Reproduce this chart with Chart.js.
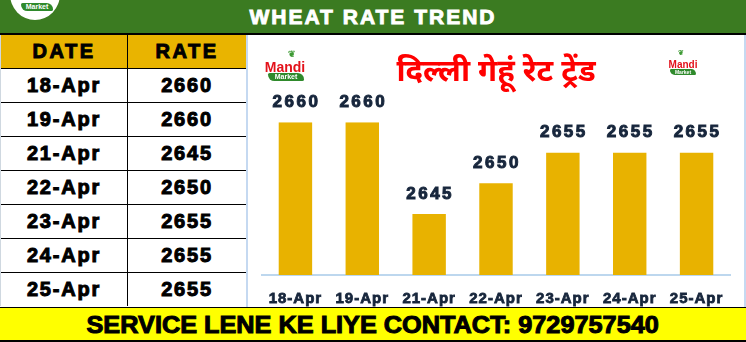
<!DOCTYPE html>
<html>
<head>
<meta charset="utf-8">
<script src="https://cdn.jsdelivr.net/npm/chart.js@4"></script>
<style>
  body { margin: 0; }
  #page { position: relative; width: 746px; height: 342px; overflow: hidden; background: #fff;
          font-family: "Liberation Sans", Arial, sans-serif; }
  #head { position: absolute; left: 0; top: 0; width: 746px; height: 33px; background: #3b7b21;
          border-bottom: 2px solid #000; }
  #head .ttl { position: absolute; left: 0; width: 746px; top: 5px; text-align: center; color: #fff;
          font-weight: bold; font-size: 21px; letter-spacing: 2px; -webkit-text-stroke: 0.9px #fff; }
  .oval { position: absolute; left: 10px; top: -32px; width: 50px; height: 52px; border-radius: 50%; background: #fff; }
  .pill { position: absolute; background: #2f8a2c; color: #fff; font-weight: bold; text-align: center;
          border-radius: 2px 8px 2px 8px; }
  .mandi { position: absolute; color: #e3121b; font-weight: bold; text-align: center; }
  .leaf { position: absolute; color: #3d9a34; font-weight: bold; text-align: center; }
  table { position: absolute; left: 0; top: 35px; width: 246px; border-collapse: collapse; }
  td, th { padding: 0; text-align: center; font-weight: bold; font-size: 20px; letter-spacing: 1.8px;
           color: #000; -webkit-text-stroke: 1px #000; }
  th { background: #e9b400; height: 33px; font-size: 20px; letter-spacing: 2.5px; }
  td { height: 33px; border-top: 1px solid #000; }
  td:first-child, th:first-child { width: 126px; border-right: 1px solid #000; border-left: 1px solid #cfd8e0; }
  #panel { position: absolute; left: 246px; top: 35px; width: 496px; height: 272px;
           border-left: 2px solid #c5d9f1; border-right: 2px solid #c5d9f1; background: #fff; }
  #panel canvas { position: absolute; left: 0; top: 1px; }
  #foot { position: absolute; left: 0; top: 307px; width: 746px; height: 32px; background: #ffff00;
          border-top: 1px solid #000; border-bottom: 2px solid #000; text-align: center; }
  #foot span { display: inline-block; margin-top: 3px; font-weight: bold; font-size: 24px;
          -webkit-text-stroke: 1px #000; white-space: nowrap; transform-origin: center; }
</style>
</head>
<body>
<div id="page">
  <div id="head">
    <div class="oval"></div>
    <div class="pill" style="left:21px;top:3px;width:32px;height:8px;font-size:7px;line-height:8px;">Market</div>
    <div class="ttl">WHEAT RATE TREND</div>
  </div>

  <table id="rates">
    <thead><tr><th>DATE</th><th>RATE</th></tr></thead>
    <tbody></tbody>
  </table>

  <div id="panel">
    <canvas id="chart" width="496" height="271"></canvas>
    <div class="leaf" style="left:38px;top:14px;width:12px;font-size:9px;">❦</div>
    <div class="mandi" style="left:14px;top:24px;width:46px;font-size:14px;">Mandi</div>
    <div class="pill" style="left:20px;top:38px;width:36px;height:8px;font-size:7px;line-height:8px;">Market</div>
    <div class="leaf" style="left:428px;top:14px;width:10px;font-size:7px;">❦</div>
    <div class="mandi" style="left:420px;top:24px;width:30px;font-size:10px;">Mandi</div>
    <div class="pill" style="left:422px;top:34px;width:26px;height:6px;font-size:5px;line-height:6px;">Market</div>
  </div>

  <div id="foot"><span id="footText">SERVICE LENE KE LIYE CONTACT: 9729757540</span></div>
</div>

<script>
var dates = ['18-Apr', '19-Apr', '21-Apr', '22-Apr', '23-Apr', '24-Apr', '25-Apr'];
var rates = [2660, 2660, 2645, 2650, 2655, 2655, 2655];
var chartTitle = 'दिल्ली गेहूं रेट ट्रेंड';
var yMin = 2635, yMax = 2660;

// table rows from the same arrays
var tbody = document.querySelector('#rates tbody');
dates.forEach(function(d, i) {
    var tr = document.createElement('tr');
    tr.innerHTML = '<td>' + d + '</td><td>' + rates[i] + '</td>';
    tbody.appendChild(tr);
});

// footer text is narrow in the original
var ft = document.getElementById('footText');
ft.style.transform = 'scaleX(' + (572 / ft.offsetWidth) + ')';

var barLabels = {
    id: 'barLabels',
    afterDatasetsDraw: function(chart) {
        var ctx = chart.ctx;
        var meta = chart.getDatasetMeta(0);
        ctx.save();
        ctx.font = 'bold 17px "Liberation Sans", Arial, sans-serif';
        ctx.letterSpacing = '2.5px';
        ctx.fillStyle = '#17263c';
        ctx.strokeStyle = '#17263c';
        ctx.lineWidth = 1;
        ctx.textAlign = 'center';
        ctx.textBaseline = 'middle';
        meta.data.forEach(function(bar, i) {
            ctx.fillText(String(rates[i]), bar.x + 1, bar.y - 20);
            ctx.strokeText(String(rates[i]), bar.x + 1, bar.y - 20);
        });
        ctx.restore();
        ctx.letterSpacing = '1px'; // for x tick labels drawn next
    },
    afterDraw: function(chart) {
        chart.ctx.letterSpacing = '0px';
    }
};

new Chart(document.getElementById('chart'), {
    type: 'bar',
    data: {
        labels: dates,
        datasets: [{
            data: rates,
            backgroundColor: '#e8b200',
            borderWidth: 0,
            barPercentage: 0.5,
            categoryPercentage: 1
        }]
    },
    options: {
        responsive: false,
        animation: false,
        devicePixelRatio: 1,
        layout: { padding: { left: 14, right: 14, top: 0, bottom: -16 } },
        plugins: {
            legend: { display: false },
            tooltip: { enabled: false },
            title: {
                display: true,
                text: chartTitle,
                color: '#ff0000',
                font: { size: 31, weight: 'bold', family: '"Noto Sans Devanagari", "Noto Sans", sans-serif' },
                padding: { top: 21, bottom: 28 }
            }
        },
        scales: {
            x: {
                grid: { display: false, drawTicks: false },
                border: { color: '#bdd7ee', width: 2 },
                ticks: {
                    z: 1,
                    padding: 15,
                    color: '#17263c',
                    textStrokeColor: '#17263c',
                    textStrokeWidth: 0.8,
                    font: { size: 15, weight: 'bold', family: '"Liberation Sans", Arial, sans-serif' }
                }
            },
            y: {
                display: false,
                min: yMin,
                max: yMax
            }
        }
    },
    plugins: [barLabels]
});
</script>
</body>
</html>
